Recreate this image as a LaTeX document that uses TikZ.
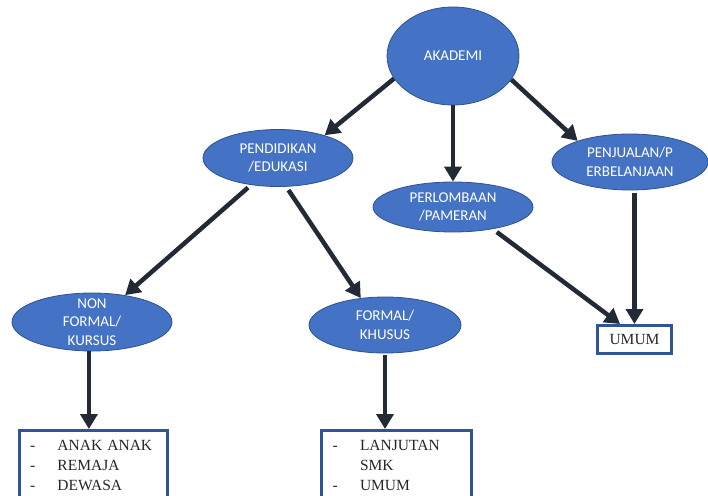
\documentclass[tikz,border=0pt]{standalone}
\usepackage{fontspec}
\setmainfont{Liberation Serif}
\newfontfamily\ovalfont{Carlito}
\usetikzlibrary{shapes.geometric,arrows.meta}
\definecolor{ovalblue}{HTML}{4472C4}
\definecolor{ovalline}{HTML}{2F528F}
\definecolor{boxline}{HTML}{2F5597}
\definecolor{arrowdark}{HTML}{222A35}

\tikzset{
  oval/.style    = {shape=ellipse, draw=ovalline, line width=0.8pt,
                    fill=ovalblue, text=white, align=center,
                    inner xsep=0pt, inner ysep=-12pt,
                    font=\ovalfont\fontsize{15}{18.5}\selectfont},
  listbox/.style = {shape=rectangle, draw=boxline, line width=3pt,
                    align=left, text=black!85,
                    font=\fontsize{15.5}{20}\selectfont},
  link/.style    = {draw=arrowdark, line width=4.5pt,
                    -{Triangle[length=15pt,width=17pt]}}
}

\begin{document}
\begin{tikzpicture}[x=1pt, y=-1pt]
\useasboundingbox (0,0) rectangle (708,495);
\path[clip] (0,0) rectangle (708,495);

\node [oval, minimum width=132pt, minimum height=98pt] (akademi) at (453,56) {AKADEMI};
\node [oval, minimum width=150pt, minimum height=57pt] (pendidikan) at (278,158) {PENDIDIKAN\\/EDUKASI};
\node [oval, minimum width=160pt, minimum height=50pt] (perlombaan) at (453,207) {PERLOMBAAN\\/PAMERAN};
\node [oval, minimum width=156pt, minimum height=56pt] (penjualan) at (630,162) {PENJUALAN/P\\ERBELANJAAN};
\node [oval, minimum width=160pt, minimum height=58pt] (nonformal) at (92,322) {NON\\FORMAL/\\KURSUS};
\node [oval, minimum width=152pt, minimum height=56pt] (formal) at (385,325) {FORMAL/\\KHUSUS};

\node [listbox, anchor=north west, text width=126pt, minimum height=72pt,
       inner xsep=11pt, inner ysep=6pt] (usia) at (17.5,429)
  {\begin{tabular}{@{}p{27.5pt}@{}l@{}}- & ANAK ANAK\\- & REMAJA\\- & DEWASA\end{tabular}};
\node [listbox, anchor=north west, text width=127pt, minimum height=72pt,
       inner xsep=11.5pt, inner ysep=6pt] (lanjutan) at (319.5,429)
  {\begin{tabular}{@{}p{27.5pt}@{}l@{}}- & LANJUTAN\\ & SMK\\- & UMUM\end{tabular}};
\node [listbox, minimum width=74pt, minimum height=28pt, inner sep=0pt] (umum) at (634.5,339.5) {UMUM};

\draw [link] (akademi.201) -- (pendidikan.26);
\draw [link] (akademi.south) -- (perlombaan.north);
\draw [link] (akademi.-22) -- (penjualan.158);
\draw [link, shorten <=4pt] (pendidikan.225) -- (nonformal.39);
\draw [link, shorten <=4pt] (pendidikan.-74) -- (formal.132);
\draw [link] (nonformal.-96) -- (nonformal.-96 |- usia.north);
\draw [link, shorten <=2pt] (formal.south) -- (formal.south |- lanjutan.north);
\draw [link, shorten <=5pt] (perlombaan.-29) -- (umum.133);
\draw [link, shorten <=3pt] (penjualan.-81) -- (penjualan.-81 |- umum.north);
\end{tikzpicture}
\end{document}
